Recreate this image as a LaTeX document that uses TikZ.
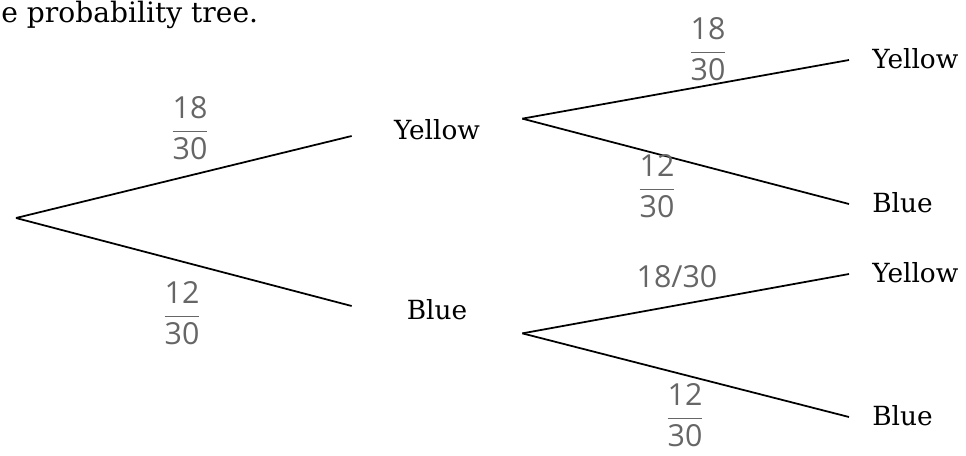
\documentclass[tikz,border=0pt]{standalone}
\usepackage{amsmath}
\usepackage{fontspec}
\setmainfont{DejaVu Serif}
\newfontfamily\handfont{Open Sans}
\usetikzlibrary{positioning}

\tikzset{
  mid/.style={inner xsep=0pt, inner ysep=0pt, minimum width=34mm, text depth=2.8mm, anchor=base},
  leaf/.style={inner xsep=4.6mm, inner ysep=0pt, text height=3.2mm, text depth=0pt, anchor=west},
  prob/.style={text=black!60, font=\handfont\LARGE},
  branch/.style={line width=1pt}
}

\begin{document}
\begin{tikzpicture}[x=0.2mm, y=-0.2mm, font=\fontsize{15}{18}\selectfont]
    \useasboundingbox (0,0) rectangle (966,455);
    \node[anchor=base west, inner sep=0pt, font=\fontsize{16}{20}\selectfont] (title) at (1,22) {e probability tree.};
    \coordinate (root) at (16,218);
    \node[mid, text height=4mm] (y1) at (437,139) {Yellow};
    \node[mid, text height=8mm] (b1) at (437,319) {Blue};
    \node[leaf] (yy) at (849,60) {Yellow};
    \node[leaf] (yb) at (849,204) {Blue};
    \node[leaf] (by) at (849,274) {Yellow};
    \node[leaf] (bb) at (849,417) {Blue};
    \draw[branch] (root) -- (y1.west);
    \draw[branch] (root) -- (b1.west);
    \draw[branch] (y1.north east) -- (yy.west);
    \draw[branch] (y1.north east) -- (yb.west);
    \draw[branch] (b1.south east) -- (by.west);
    \draw[branch] (b1.south east) -- (bb.west);
    \node[prob] (p1) at (190,128) {\(\dfrac{\text{18}}{\text{30}}\)};
    \node[prob] (p2) at (182,313) {\(\dfrac{\text{12}}{\text{30}}\)};
    \node[prob] (p3) at (708,49) {\(\dfrac{\text{18}}{\text{30}}\)};
    \node[prob] (p4) at (657,186) {\(\dfrac{\text{12}}{\text{30}}\)};
    \node[prob] (p5) at (677,277) {18/30};
    \node[prob] (p6) at (685,415) {\(\dfrac{\text{12}}{\text{30}}\)};
\end{tikzpicture}
\end{document}
